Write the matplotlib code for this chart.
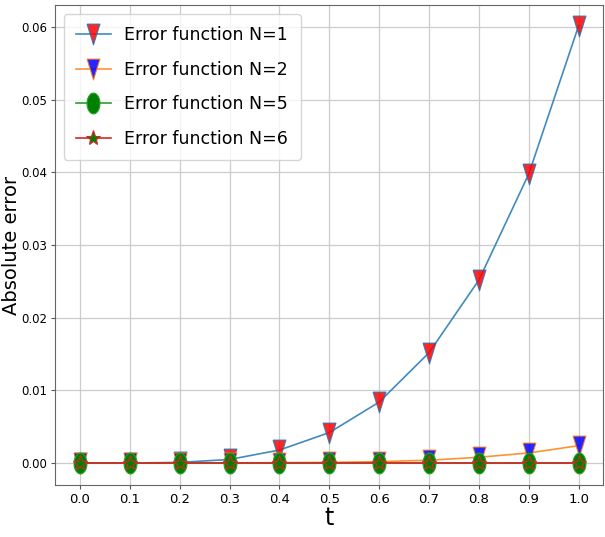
import matplotlib
matplotlib.use("Agg")
import matplotlib.pyplot as plt
from matplotlib.font_manager import FontProperties
import numpy as np

t = [0.0, 0.1, 0.2, 0.3, 0.4, 0.5, 0.6, 0.7, 0.8, 0.9, 1.0]
err_n1 = [0.0, 0.000006, 0.0001, 0.0005, 0.0018, 0.0042, 0.0084, 0.0152, 0.0252, 0.0398, 0.0602]
err_n2 = [0.0, 0.0, 0.00001, 0.00003, 0.00006, 0.0001, 0.0002, 0.0004, 0.0008, 0.0014, 0.0024]
err_n5 = [0.0] * 11
err_n6 = [0.0] * 11
labels = ["Error function N=1", "Error function N=2", "Error function N=5", "Error function N=6"]

# squeezed marker shapes (the source image is compressed horizontally)
ang = np.linspace(0, 2 * np.pi, 40)
ELLIPSE = list(zip(0.62 * np.cos(ang), np.sin(ang)))
TRI_DOWN = [(-0.62, 1.0), (0.62, 1.0), (0.0, -1.0), (-0.62, 1.0)]

fig = plt.figure(figsize=(6.05, 5.37), dpi=100)
ax = fig.add_axes([0.091, 0.097, 0.905, 0.893])

ax.plot(t, err_n1, color="C0", lw=1.2, alpha=0.85, marker=TRI_DOWN, markersize=15,
        markerfacecolor="red", markeredgecolor="C0", markeredgewidth=0.8, label=labels[0])
ax.plot(t, err_n2, color="C1", lw=1.2, alpha=0.85, marker=TRI_DOWN, markersize=15,
        markerfacecolor="blue", markeredgecolor="C1", markeredgewidth=0.8, label=labels[1])
ax.plot(t, err_n5, color="C2", lw=1.2, marker=ELLIPSE, markersize=15,
        markerfacecolor="green", markeredgecolor="C2", markeredgewidth=0.8, label=labels[2])
ax.plot(t, err_n6, color="C3", lw=1.2, marker="*", markersize=11,
        markerfacecolor="green", markeredgecolor="C3", markeredgewidth=0.8, label=labels[3])

ax.set_xlim(-0.05, 1.048)
ax.set_ylim(-0.0030, 0.0630)
ax.set_xticks(t)
ax.set_xticklabels([f"{v:.1f}" for v in t])
ax.tick_params(labelsize=8.5, length=3, color="#555555", pad=2.5)
ax.tick_params(axis="x", labelsize=9.5)
ax.grid(True, color="#cccccc", linewidth=0.9)
for sp in ax.spines.values():
    sp.set_color("#666666")

ax.set_xlabel("t", fontsize=17, labelpad=0)
ax.set_ylabel("Absolute error", fontsize=14)
ax.yaxis.set_label_coords(-0.062, 0.5)

ax.legend(loc="upper left", prop=FontProperties(size=12.5),
          handlelength=2.0, labelspacing=0.95, borderpad=0.7, handletextpad=0.8)

fig.savefig("out.png", dpi=100)
